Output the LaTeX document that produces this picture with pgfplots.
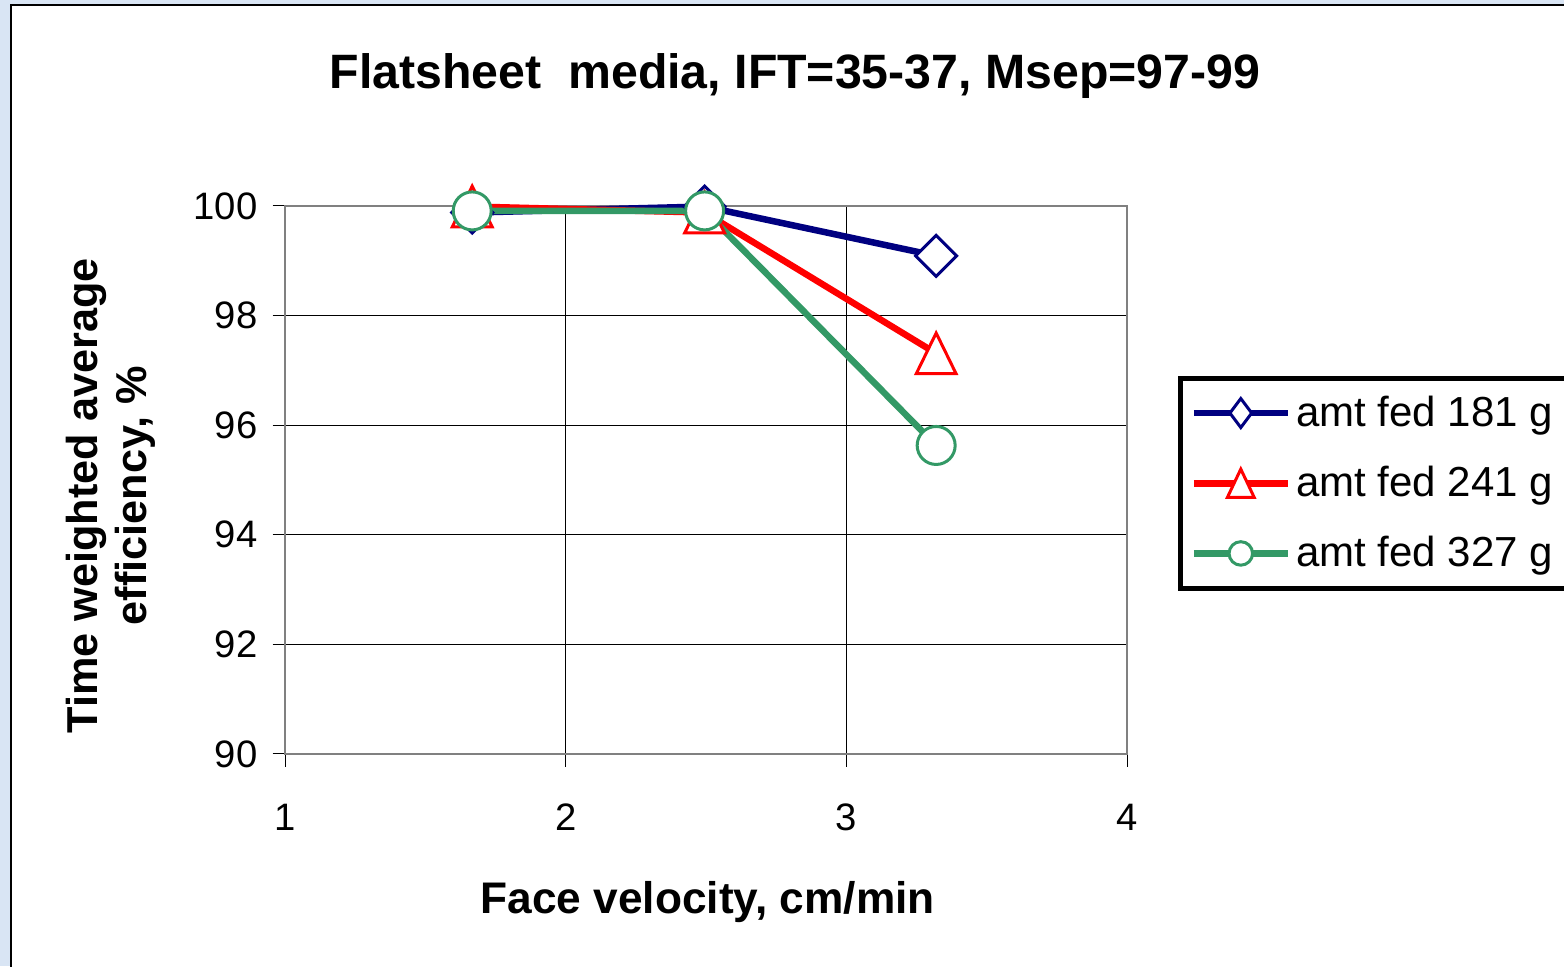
\documentclass[border=0pt]{standalone}
\usepackage{pgfplots}
\pgfplotsset{compat=1.18}
\usepackage{fontspec}
\setmainfont{Liberation Sans}
\definecolor{navyline}{HTML}{000080}
\definecolor{redline}{HTML}{FF0000}
\definecolor{greenline}{HTML}{339966}
\definecolor{paleblue}{HTML}{D9E5F4}
\definecolor{plotframe}{HTML}{808080}

% legend pictures: a line with a smaller marker in its middle
\pgfplotsset{
  legnavy/.style={legend image code/.code={
    \draw[navyline, line width=2.6pt] (0pt,0pt) -- (37.6pt,0pt);
    \draw[navyline, mark=diamond*, mark size=5.8pt,
      mark options={line width=1.2pt, fill=white, solid}]
      plot coordinates {(18.8pt,0pt)};}},
  legred/.style={legend image code/.code={
    \draw[redline, line width=2.6pt] (0pt,0pt) -- (37.6pt,0pt);
    \draw[redline, mark=triangle*, mark size=6.2pt,
      mark options={yshift=-1.9pt, yscale=1.22, line width=1.2pt, fill=white, solid}]
      plot coordinates {(18.8pt,0pt)};}},
  leggreen/.style={legend image code/.code={
    \draw[greenline, line width=2.6pt] (0pt,0pt) -- (37.6pt,0pt);
    \draw[greenline, mark=*, mark size=4.7pt,
      mark options={line width=1.2pt, fill=white, solid}]
      plot coordinates {(18.8pt,0pt)};}},
}

\begin{document}
\begin{tikzpicture}
% page background and outer frame (1 unit = 0.4pt)
\begin{scope}[x=0.4pt,y=0.4pt]
  \useasboundingbox (0,0) rectangle (1564,966);
  \fill[paleblue] (0,0) rectangle (1564,966);
  \filldraw[fill=white, draw=black, line width=0.8pt] (11,-20) rectangle (1590,961);
  \node[font=\bfseries\fontsize{19.3}{23}\selectfont] at (795,890)
    {Flatsheet\ \ media, IFT=35-37, Msep=97-99};
\end{scope}

\begin{pgfinterruptboundingbox}
\begin{axis}[
  at={(114pt,84.8pt)}, anchor=south west,
  width=336.8pt, height=219.2pt, scale only axis,
  xmin=1, xmax=4, ymin=90, ymax=100,
  xtick={1,2,3,4}, ytick={90,92,...,100},
  clip=false,
  axis line style={plotframe, line width=0.8pt},
  grid=major, major grid style={black, line width=0.4pt},
  tick style={black, line width=0.4pt},
  tick align=outside, major tick length=5pt,
  xtick pos=lower, ytick pos=left,
  /pgf/number format/assume math mode=true,
  ticklabel style={font=\fontsize{15.3}{18}\selectfont},
  xticklabel style={yshift=-11.4pt},
  yticklabel style={xshift=-2.5pt},
  xlabel={Face velocity, cm/min},
  xlabel style={font=\bfseries\fontsize{17.7}{20}\selectfont,
    at={(axis description cs:0.502,-0.270)}, anchor=center},
  ylabel={Time weighted average\\efficiency, \%},
  ylabel style={font=\bfseries\fontsize{17.3}{19.6}\selectfont, align=center,
    at={(axis description cs:-0.207,0.471)}, anchor=center},
  legend style={at={(1.0606,0.6898)}, anchor=north west, draw=black,
    line width=2pt, font=\fontsize{16.8}{19}\selectfont,
    inner xsep=4pt, inner ysep=5pt, row sep=10.4pt,
    /tikz/every even column/.append style={column sep=3pt}},
  legend cell align=left,
]
\addplot[navyline, line width=2.6pt, mark=square*, mark size=5.8pt,
  mark options={rotate=45, line width=1.2pt, fill=white, solid}, legnavy]
  coordinates {(1.667,99.88) (2.495,99.99) (3.32,99.09)};
\addlegendentry{amt fed 181 g}

\addplot[redline, line width=2.6pt, mark=triangle*, mark size=9.2pt,
  mark options={yshift=-2.7pt, yscale=1.18, line width=1.2pt, fill=white, solid}, legred]
  coordinates {(1.667,99.99) (2.495,99.88) (3.32,97.31)};
\addlegendentry{amt fed 241 g}

\addplot[greenline, line width=2.6pt, mark=*, mark size=7.6pt,
  mark options={line width=1.2pt, fill=white, solid}, leggreen]
  coordinates {(1.667,99.91) (2.495,99.91) (3.32,95.63)};
\addlegendentry{amt fed 327 g}
\end{axis}
\end{pgfinterruptboundingbox}
\end{tikzpicture}
\end{document}
